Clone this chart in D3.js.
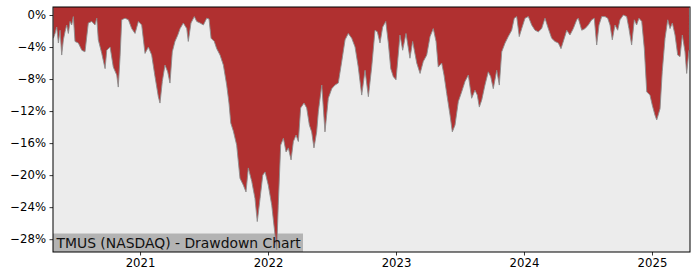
<!DOCTYPE html>
<html>
<head>
<meta charset="utf-8">
<script src="https://cdn.jsdelivr.net/npm/d3@7"></script>
<style>
  body { margin: 0; background: #fff; }
  text { font-family: "DejaVu Sans", sans-serif; }
</style>
</head>
<body>
<div id="chart"></div>
<script>
// time as decimal years, drawdown in percent
const years = [
  2020.323, 2020.336, 2020.349, 2020.362, 2020.375, 2020.388, 2020.401, 2020.414, 2020.427, 2020.440,
  2020.453, 2020.466, 2020.479, 2020.492, 2020.518, 2020.545, 2020.570, 2020.596, 2020.623, 2020.648,
  2020.662, 2020.674, 2020.701, 2020.727, 2020.740, 2020.766, 2020.791, 2020.818, 2020.830, 2020.844,
  2020.857, 2020.883, 2020.909, 2020.935, 2020.961, 2020.987, 2021.013, 2021.039, 2021.065, 2021.091,
  2021.117, 2021.143, 2021.156, 2021.174, 2021.195, 2021.216, 2021.234, 2021.252, 2021.273, 2021.295,
  2021.313, 2021.338, 2021.365, 2021.377, 2021.398, 2021.424, 2021.443, 2021.469, 2021.495, 2021.521,
  2021.539, 2021.555, 2021.580, 2021.599, 2021.625, 2021.651, 2021.677, 2021.695, 2021.709, 2021.729,
  2021.755, 2021.781, 2021.807, 2021.828, 2021.846, 2021.873, 2021.898, 2021.916, 2021.938, 2021.959,
  2021.977, 2022.002, 2022.029, 2022.055, 2022.068, 2022.080, 2022.099, 2022.120, 2022.141, 2022.159,
  2022.180, 2022.198, 2022.219, 2022.237, 2022.255, 2022.281, 2022.302, 2022.323, 2022.341, 2022.359,
  2022.380, 2022.393, 2022.420, 2022.445, 2022.471, 2022.498, 2022.523, 2022.549, 2022.576, 2022.602,
  2022.627, 2022.654, 2022.680, 2022.705, 2022.732, 2022.758, 2022.784, 2022.810, 2022.836, 2022.854,
  2022.875, 2022.896, 2022.920, 2022.940, 2022.959, 2022.979, 2023.000, 2023.031, 2023.052, 2023.078,
  2023.109, 2023.130, 2023.162, 2023.188, 2023.213, 2023.240, 2023.266, 2023.291, 2023.313, 2023.330,
  2023.357, 2023.375, 2023.396, 2023.422, 2023.440, 2023.461, 2023.487, 2023.513, 2023.539, 2023.565,
  2023.591, 2023.617, 2023.635, 2023.651, 2023.670, 2023.695, 2023.721, 2023.740, 2023.760, 2023.787,
  2023.807, 2023.826, 2023.852, 2023.877, 2023.904, 2023.924, 2023.943, 2023.963, 2023.982, 2024.008,
  2024.034, 2024.060, 2024.086, 2024.112, 2024.138, 2024.164, 2024.190, 2024.216, 2024.242, 2024.268,
  2024.289, 2024.315, 2024.334, 2024.359, 2024.385, 2024.412, 2024.424, 2024.451, 2024.477, 2024.502,
  2024.529, 2024.549, 2024.568, 2024.586, 2024.607, 2024.633, 2024.654, 2024.672, 2024.690, 2024.711,
  2024.732, 2024.750, 2024.776, 2024.802, 2024.820, 2024.841, 2024.862, 2024.880, 2024.898, 2024.920,
  2024.940, 2024.959, 2024.984, 2025.002, 2025.023, 2025.037, 2025.063, 2025.080, 2025.102, 2025.123,
  2025.141, 2025.159, 2025.180, 2025.201, 2025.219, 2025.237, 2025.258, 2025.271, 2025.289
];

const drawdown = [
  -2.9, -2.3, -1.5, -3.5, -1.9, -5.0, -3.1, -2.1, -1.25, -2.3,
  -0.8, -1.25, -0.2, -3.3, -3.5, -4.4, -4.6, -1.0, -0.8, -1.25,
  -0.4, -3.1, -4.8, -6.7, -4.4, -4.0, -6.5, -7.5, -9.0, -5.2,
  -0.6, -0.4, -0.6, -1.7, -2.3, -0.8, -1.25, -4.8, -4.0, -5.0,
  -7.7, -10.2, -11.0, -8.3, -6.25, -7.1, -8.5, -4.6, -3.3, -2.5,
  -1.7, -1.0, -1.7, -3.3, -1.0, -0.2, -0.8, -1.0, -1.25, -0.4,
  -0.5, -2.9, -3.3, -4.2, -5.0, -6.25, -8.75, -11.0, -13.5, -14.5,
  -16.25, -20.4, -21.25, -22.1, -19.1, -20.8, -22.9, -25.8, -22.9, -20.0,
  -19.6, -21.25, -23.75, -27.5, -29.3, -23.75, -16.25, -15.4, -17.1, -16.6,
  -18.1, -15.8, -15.0, -15.8, -11.6, -11.0, -11.6, -13.75, -14.6, -16.6,
  -14.6, -12.1, -8.75, -14.6, -10.4, -9.2, -8.75, -8.5, -5.8, -3.1,
  -2.3, -2.9, -4.0, -6.5, -10.0, -6.9, -10.2, -6.5, -1.9, -2.1,
  -3.5, -1.5, -0.8, -3.5, -6.7, -7.7, -8.1, -2.5, -4.4, -2.3,
  -5.4, -3.3, -6.0, -7.3, -5.8, -5.0, -2.7, -1.7, -3.3, -6.5,
  -6.0, -7.5, -9.8, -12.5, -14.6, -13.75, -10.8, -9.6, -8.3, -7.5,
  -10.4, -9.4, -10.0, -11.5, -10.6, -8.75, -7.1, -7.7, -9.2, -6.9,
  -8.75, -4.6, -3.5, -2.7, -1.9, -0.4, -0.2, -2.7, -1.7, -0.4,
  -0.2, -1.25, -1.9, -2.1, -1.7, -0.4, -1.7, -2.9, -3.3, -3.5,
  -4.2, -2.9, -1.9, -2.5, -1.7, -0.6, -0.4, -1.9, -1.7, -1.25,
  -0.6, -0.4, -3.75, -1.25, -0.2, -0.2, -0.4, -1.25, -3.1, -1.25,
  -1.9, -0.6, 0, -0.2, -1.7, -3.75, -0.6, -1.25, -0.4, -0.8,
  -4.2, -9.6, -10.0, -11.25, -12.5, -13.1, -11.7, -7.1, -2.9, -0.6,
  -1.7, -1.0, -2.5, -5.0, -5.2, -2.5, -4.6, -7.3, -4.4
];

const xTicks = [2021, 2022, 2023, 2024, 2025];
const yTicks = [0, -4, -8, -12, -16, -20, -24, -28];
const title = "TMUS (NASDAQ) - Drawdown Chart";

const w = 700;
const h = 280;
const margin = {top: 7, right: 10, bottom: 28, left: 53};

const data = years.map((t, i) => ({t: t, v: drawdown[i]}));

const svg = d3.select('#chart')
              .append('svg')
              .attr('width', w)
              .attr('height', h);

const x = d3.scaleLinear()
            .domain([2020.320, 2025.297])
            .range([margin.left, w - margin.right]);

const y = d3.scaleLinear()
            .domain([-29.6, 1.0])
            .range([h - margin.bottom, margin.top]);

// plot background
svg.append('rect')
   .attr('x', margin.left)
   .attr('y', margin.top)
   .attr('width', w - margin.left - margin.right)
   .attr('height', h - margin.top - margin.bottom)
   .attr('fill', '#ececec');

svg.append('clipPath')
   .attr('id', 'clip')
   .append('rect')
   .attr('x', margin.left)
   .attr('y', margin.top)
   .attr('width', w - margin.left - margin.right)
   .attr('height', h - margin.top - margin.bottom);

// title box goes under the area, text on top
svg.append('rect')
   .attr('x', margin.left)
   .attr('y', 233.5)
   .attr('width', 250)
   .attr('height', h - margin.bottom - 233.5)
   .attr('fill', '#b3b3b3');

const plot = svg.append('g').attr('clip-path', 'url(#clip)');

// red area hangs from the top of the plot down to the drawdown
const area = d3.area()
               .x(d => x(d.t))
               .y0(margin.top)
               .y1(d => y(d.v));

plot.append('path')
    .datum(data)
    .attr('d', area)
    .attr('fill', '#b03030');

plot.append('path')
    .datum(data)
    .attr('d', d3.line().x(d => x(d.t)).y(d => y(d.v)))
    .attr('fill', 'none')
    .attr('stroke', '#8c8c8c')
    .attr('stroke-width', 0.9);

svg.append('text')
   .attr('x', margin.left + 3.5)
   .attr('y', 247.5)
   .attr('font-size', '13.9px')
   .attr('fill', '#111')
   .text(title);

// axes
const xAxis = d3.axisBottom(x)
                .tickValues(xTicks)
                .tickFormat(d3.format('d'))
                .tickSize(3.5)
                .tickPadding(3.5);

const yAxis = d3.axisLeft(y)
                .tickValues(yTicks)
                .tickFormat(d => (d < 0 ? '\u2212' + Math.abs(d) : d) + '%')
                .tickSize(3.5)
                .tickPadding(3.5);

const gx = svg.append('g')
   .attr('transform', `translate(0, ${h - margin.bottom})`)
   .call(xAxis);

const gy = svg.append('g')
   .attr('transform', `translate(${margin.left}, 0)`)
   .call(yAxis);

[gx, gy].forEach(g => {
  g.select('.domain').remove();
  g.selectAll('text')
   .attr('font-size', '11.7px')
   .attr('font-family', '"DejaVu Sans", sans-serif')
   .attr('fill', '#000');
  g.selectAll('line').attr('stroke', '#000').attr('stroke-width', 0.8);
});

// frame
svg.append('rect')
   .attr('x', margin.left)
   .attr('y', margin.top)
   .attr('width', w - margin.left - margin.right)
   .attr('height', h - margin.top - margin.bottom)
   .attr('fill', 'none')
   .attr('stroke', '#000')
   .attr('stroke-width', 1);
</script>
</body>
</html>
